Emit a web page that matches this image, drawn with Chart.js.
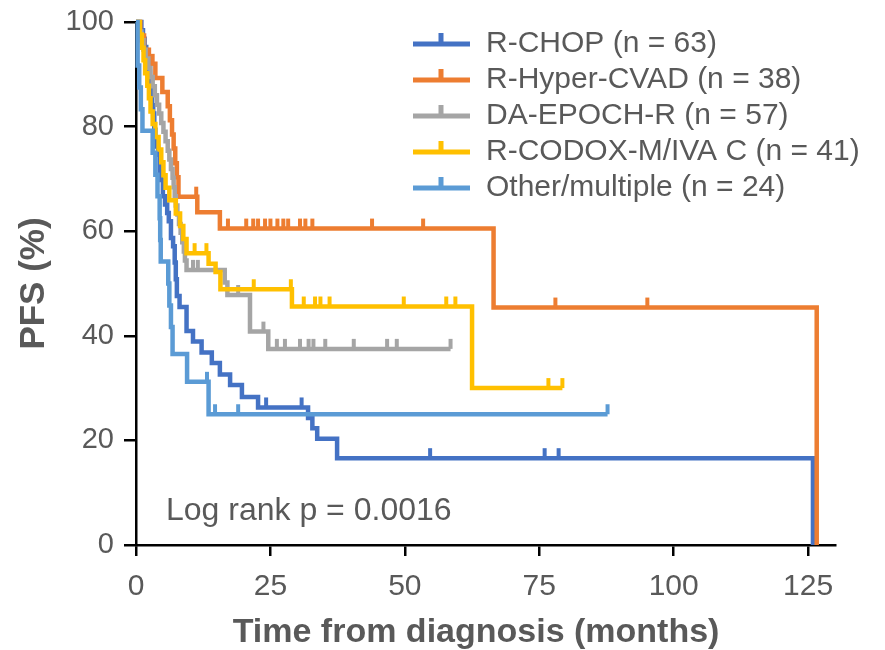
<!DOCTYPE html>
<html>
<head>
<meta charset="utf-8">
<script src="https://cdn.jsdelivr.net/npm/chart.js@4.4.1/dist/chart.umd.min.js"></script>
<style>
  html, body { margin: 0; padding: 0; background: #fff; }
</style>
</head>
<body>
<canvas id="chart" width="885" height="650"></canvas>
<script>
const seriesLabels = ['R-CHOP (n = 63)', 'R-Hyper-CVAD (n = 38)', 'DA-EPOCH-R (n = 57)', 'R-CODOX-M/IVA C (n = 41)', 'Other/multiple (n = 24)']
const seriesColors = ['#4472C4', '#ED7D31', '#A5A5A5', '#FFC000', '#5B9BD5']

const xTicks = [0, 25, 50, 75, 100, 125]
const yTicks = [0, 20, 40, 60, 80, 100]

// KM steps: time (months) of each drop and PFS (%) after it; censor times separate
const rchopTime = [0, 1.0, 1.3, 1.6, 1.9, 2.1, 2.3, 2.6, 2.8, 3.0, 3.2, 3.4, 3.6, 3.8, 4.1, 4.4, 4.7, 5.0, 5.4, 5.8, 6.1, 6.5, 6.9, 7.2, 7.4, 7.6, 8.1, 9.4, 10.6, 12.2, 14.1, 15.6, 17.5, 19.7, 22.7, 32.0, 32.8, 33.7, 37.4, 125.9]
const rchopPfs = [100, 98.4, 96.8, 95.2, 93.7, 92.1, 90.5, 88.9, 87.3, 84.1, 82.5, 79.4, 77.8, 76.2, 74.6, 71.4, 69.8, 66.7, 65.1, 63.5, 61.9, 58.7, 57.1, 54.0, 50.8, 47.6, 45.5, 40.9, 38.9, 36.8, 34.8, 32.6, 30.6, 28.3, 26.3, 24.3, 22.3, 20.3, 16.6, 0]
const rchopCensor = [24.2, 30.8, 54.7, 76.0, 78.6]

const hyperTime = [0, 0.8, 1.5, 2.4, 3.6, 4.9, 5.9, 6.3, 6.7, 7.0, 7.3, 7.6, 7.9, 11.4, 15.6, 66.5, 126.6]
const hyperPfs = [100, 97.4, 94.7, 92.0, 89.3, 86.6, 83.9, 81.2, 78.5, 75.8, 73.0, 70.3, 66.6, 63.6, 60.5, 45.4, 0]
const hyperCensor = [3.1, 11.2, 17.1, 20.5, 21.8, 22.7, 24.0, 25.0, 26.3, 27.4, 28.3, 30.5, 31.5, 32.8, 43.9, 53.4, 78.0, 95.1]

const epochTime = [0, 0.6, 1.0, 1.4, 1.8, 2.3, 2.7, 3.1, 3.5, 3.9, 4.3, 4.7, 5.1, 5.5, 5.9, 6.2, 6.5, 6.8, 7.0, 7.2, 7.4, 7.7, 8.0, 8.3, 8.6, 8.9, 9.1, 9.4, 16.5, 17.0, 21.2, 24.6]
const epochPfs = [100, 98.2, 96.5, 94.7, 93.0, 91.2, 89.5, 87.7, 86.0, 84.2, 82.5, 80.7, 79.0, 77.2, 75.4, 73.7, 71.9, 70.2, 68.4, 66.7, 64.9, 63.2, 61.4, 59.7, 57.9, 56.1, 54.4, 52.6, 50.2, 47.8, 40.8, 37.5]
const epochCensor = [10.6, 11.5, 19.0, 23.7, 26.2, 27.7, 30.5, 32.1, 33.0, 35.2, 40.5, 46.7, 48.5, 58.5]

const codoxTime = [0, 0.7, 1.1, 1.4, 1.7, 2.1, 2.4, 2.7, 3.1, 3.6, 4.2, 4.7, 5.1, 5.5, 6.2, 7.4, 8.2, 8.8, 9.4, 13.5, 14.8, 15.7, 29.0, 62.5]
const codoxPfs = [100, 97.6, 95.1, 92.7, 90.2, 87.8, 85.4, 82.9, 80.5, 78.0, 75.6, 73.2, 70.7, 68.3, 65.9, 63.4, 61.0, 58.5, 55.8, 53.8, 52.2, 48.9, 45.6, 30.0]
const codoxCensor = [10.9, 13.1, 21.9, 28.8, 31.2, 33.3, 34.3, 36.0, 49.8, 57.7, 59.4, 76.7, 79.3]

const otherTime = [0, 0.3, 0.6, 0.9, 1.2, 3.1, 3.6, 4.0, 4.4, 4.5, 4.6, 6.0, 6.2, 6.5, 6.8, 9.5, 13.5]
const otherPfs = [100, 91.7, 87.5, 83.3, 79.2, 75.0, 70.8, 66.7, 62.5, 58.3, 54.2, 50.0, 45.8, 41.7, 36.5, 31.2, 25.0]
const otherCensor = [13.2, 14.7, 19.0, 87.7]

const seriesTimes = [rchopTime, hyperTime, epochTime, codoxTime, otherTime]
const seriesPfs = [rchopPfs, hyperPfs, epochPfs, codoxPfs, otherPfs]
const seriesCensors = [rchopCensor, hyperCensor, epochCensor, codoxCensor, otherCensor]

const fontFamily = "'Liberation Sans', Arial, sans-serif"
const textColor = '#595959'

function levelAt(times, pfs, t) {
    let v = pfs[0]
    for (let i = 0; i < times.length; i++) {
        if (times[i] <= t) v = pfs[i]
    }
    return v
}

function stepPoints(times, pfs, censors) {
    const pts = times.map((t, i) => ({ x: t, y: pfs[i] }))
    const lastCensor = Math.max(...censors)
    if (lastCensor > times[times.length - 1]) {
        pts.push({ x: lastCensor, y: levelAt(times, pfs, lastCensor) })
    }
    return pts
}

const datasets = []
seriesLabels.forEach((label, i) => {
    // later groups sit on top
    const order = (seriesLabels.length - 1 - i) * 2
    datasets.push({
        type: 'line',
        label: label,
        data: stepPoints(seriesTimes[i], seriesPfs[i], seriesCensors[i]),
        stepped: 'before',
        borderColor: seriesColors[i],
        borderWidth: 4.5,
        pointRadius: 0,
        fill: false,
        clip: 10,
        order: order + 1
    })
    datasets.push({
        type: 'scatter',
        label: label + ' censored',
        data: seriesCensors[i].map(t => ({ x: t, y: levelAt(seriesTimes[i], seriesPfs[i], t) })),
        pointStyle: 'dash',
        pointRotation: -90,
        pointRadius: 10,
        pointBorderWidth: 4,
        pointBorderColor: seriesColors[i],
        pointBackgroundColor: seriesColors[i],
        clip: 12,
        order: order
    })
})

const legendRows = {
    id: 'legendRows',
    afterDraw(chart, args, opts) {
        const ctx = chart.ctx
        const { left, top } = chart.chartArea
        ctx.save()
        ctx.font = '30px ' + fontFamily
        ctx.textBaseline = 'middle'
        ctx.lineCap = 'butt'
        seriesLabels.forEach((label, i) => {
            const x = left + opts.x
            const y = top + opts.y + i * opts.gap
            ctx.strokeStyle = seriesColors[i]
            ctx.lineWidth = 5
            ctx.beginPath()
            ctx.moveTo(x, y)
            ctx.lineTo(x + 57, y)
            ctx.moveTo(x + 28, y)
            ctx.lineTo(x + 28, y - 11)
            ctx.stroke()
            ctx.fillStyle = textColor
            ctx.fillText(label, x + 73, y)
        })
        ctx.restore()
    }
}

const logRankNote = {
    id: 'logRankNote',
    afterDraw(chart, args, opts) {
        const ctx = chart.ctx
        const { left, bottom } = chart.chartArea
        ctx.save()
        ctx.font = '32px ' + fontFamily
        ctx.fillStyle = textColor
        ctx.textBaseline = 'middle'
        ctx.fillText(opts.text, left + 30, bottom - 34)
        ctx.restore()
    }
}

const ctx = document.getElementById('chart').getContext('2d')

const chart = new Chart(ctx, {
    data: { datasets: datasets },
    options: {
        responsive: false,
        animation: false,
        layout: { padding: { top: 22, right: 50, left: 0, bottom: 0 } },
        plugins: {
            legend: { display: false },
            tooltip: { enabled: false },
            legendRows: { x: 277, y: 22, gap: 36 },
            logRankNote: { text: 'Log rank p = 0.0016' }
        },
        scales: {
            x: {
                type: 'linear',
                min: 0,
                max: 130,
                afterBuildTicks: s => { s.ticks = xTicks.map(v => ({ value: v })) },
                afterFit: s => { s.height = 105 },
                grid: { display: true, drawOnChartArea: false, drawTicks: true, tickLength: 11, color: '#000', lineWidth: 2.5 },
                border: { display: true, color: '#000', width: 2.5 },
                ticks: { color: textColor, font: { size: 30, family: fontFamily }, padding: 13, maxRotation: 0 },
                title: {
                    display: true,
                    text: 'Time from diagnosis (months)  ',
                    color: textColor,
                    font: { size: 34, weight: 'bold', family: fontFamily },
                    padding: { top: 0, bottom: -3 }
                }
            },
            y: {
                type: 'linear',
                min: 0,
                max: 100,
                afterBuildTicks: s => { s.ticks = yTicks.map(v => ({ value: v })) },
                afterFit: s => {
                    s.width = 136
                    s.paddingTop = 0
                    s.paddingBottom = 0
                },
                grid: { display: true, drawOnChartArea: false, drawTicks: true, tickLength: 12, color: '#000', lineWidth: 2.5 },
                border: { display: true, color: '#000', width: 2.5 },
                ticks: { color: textColor, font: { size: 29, family: fontFamily }, padding: 10 },
                title: {
                    display: true,
                    text: 'PFS (%)',
                    color: textColor,
                    font: { size: 35, weight: 'bold', family: fontFamily },
                    padding: { top: 13, bottom: 0 }
                }
            }
        }
    },
    plugins: [legendRows, logRankNote]
})
</script>
</body>
</html>
